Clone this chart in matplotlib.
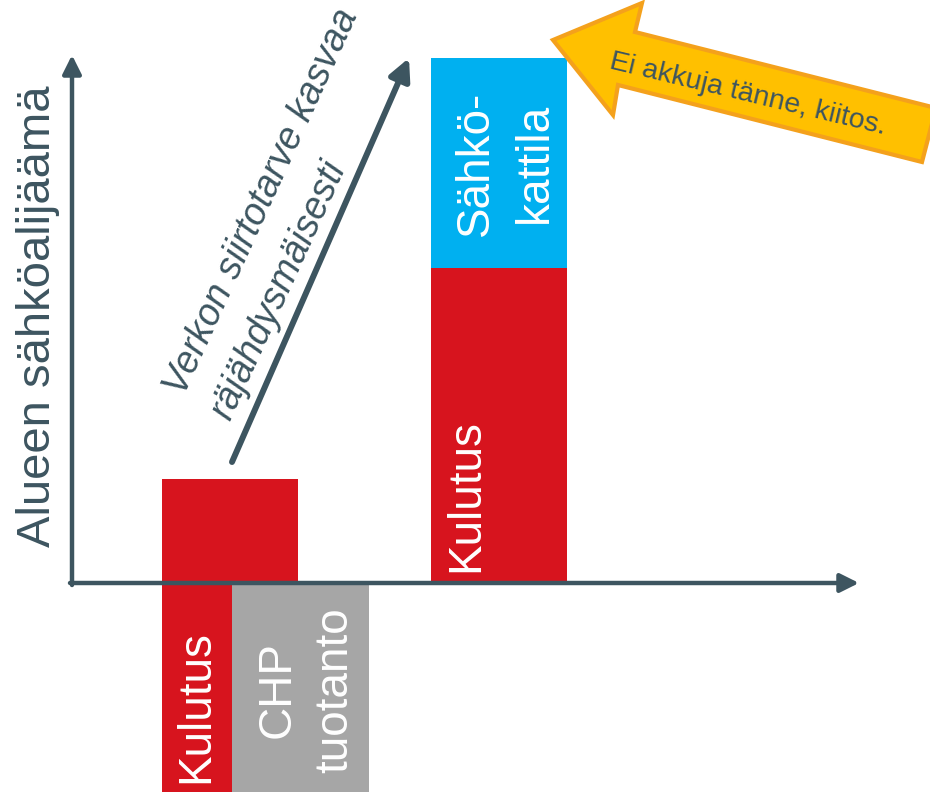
import matplotlib.pyplot as plt
from matplotlib.patches import Polygon

plt.rcParams['font.family'] = ['Liberation Sans', 'DejaVu Sans']

# arvot (pikseliyksikoissa, nolla = akselien risteys)
nyt_kulutus = [104]
ala_arvot = [-230, -230]
ala_nimet = ['Kulutus', 'CHP\ntuotanto']
tuleva_kulutus = [315]
sahkokattila = [210]

PUNAINEN = '#D7141E'
SININEN = '#00B0F0'
HARMAA = '#A6A6A6'
TUMMA = '#3d5560'
ORANSSI = '#FFC000'
ORANSSI_REUNA = '#F4A11C'


def p(x, y):
    # kuvan pikselit -> data
    return (x - 72, 583 - y)


fig = plt.figure(figsize=(9.3, 7.92), dpi=100)
ax = fig.add_axes([0, 0, 1, 1])
ax.set_xlim(-72, 858)
ax.set_ylim(-209, 583)
ax.axis('off')

ax.bar([90], nyt_kulutus, width=136, align='edge', color=PUNAINEN, zorder=2)
ax.bar([90, 160], ala_arvot, width=[70, 137], align='edge',
       color=[PUNAINEN, HARMAA], zorder=2)
ax.bar([359], tuleva_kulutus, width=136, align='edge', color=PUNAINEN, zorder=2)
ax.bar([359], sahkokattila, bottom=tuleva_kulutus, width=136, align='edge',
       color=SININEN, zorder=2)

# akselit nuolina
ax.annotate('', xy=p(72, 55), xytext=p(72, 585),
            arrowprops=dict(arrowstyle='-|>', lw=3.2, color=TUMMA,
                            mutation_scale=28, shrinkA=0, shrinkB=0), zorder=5)
ax.annotate('', xy=p(859, 583), xytext=p(70, 583),
            arrowprops=dict(arrowstyle='-|>', lw=3.2, color=TUMMA,
                            mutation_scale=28, shrinkA=0, shrinkB=0), zorder=5)

ax.text(*p(50, 547), 'Alueen sähköalijäämä', rotation=90, rotation_mode='anchor',
        ha='left', va='baseline', fontsize=34, color=TUMMA)

# palkkien tekstit
tyyli = dict(rotation=90, rotation_mode='anchor', va='baseline', fontsize=33,
             color='white', zorder=4)
ax.text(*p(478, 572), 'Kulutus', ha='left', **tyyli)
ax.text(*p(488, 163), 'Sähkö-', ha='center', **tyyli)
ax.text(*p(547, 163), 'kattila', ha='center', **tyyli)
ax.text(*p(208, 783), ala_nimet[0], ha='left', **tyyli)
rivit = ala_nimet[1].split('\n')
ax.text(*p(290, 690), rivit[0], ha='center', **tyyli)
ax.text(*p(347, 690), rivit[1], ha='center', **tyyli)

# siirtotarve-nuoli
ax.annotate('', xy=p(409, 58), xytext=p(232, 462),
            arrowprops=dict(arrowstyle='-|>', lw=4.3, color=TUMMA,
                            mutation_scale=32, shrinkA=0, shrinkB=0), zorder=5)
ax.text(*p(184, 397), 'Verkon siirtotarve kasvaa', rotation=65.5,
        rotation_mode='anchor', ha='left', va='baseline', fontsize=27,
        style='italic', color=TUMMA)
ax.text(*p(230, 422), 'räjähdysmäisesti', rotation=65.5,
        rotation_mode='anchor', ha='left', va='baseline', fontsize=27,
        style='italic', color=TUMMA)

# akkunuoli
kulmat = [p(553, 40), p(642, 3), p(635, 32), p(936, 108), p(922, 162),
          p(618, 85), p(613, 115)]
ax.add_patch(Polygon(kulmat, closed=True, facecolor=ORANSSI,
                     edgecolor=ORANSSI_REUNA, lw=3, zorder=6, clip_on=False))
ax.text(*p(608, 68), 'Ei akkuja tänne, kiitos.', rotation=-13.5,
        rotation_mode='anchor', ha='left', va='baseline', fontsize=20.5,
        color=TUMMA, zorder=7)

fig.savefig('out.png', dpi=100)
